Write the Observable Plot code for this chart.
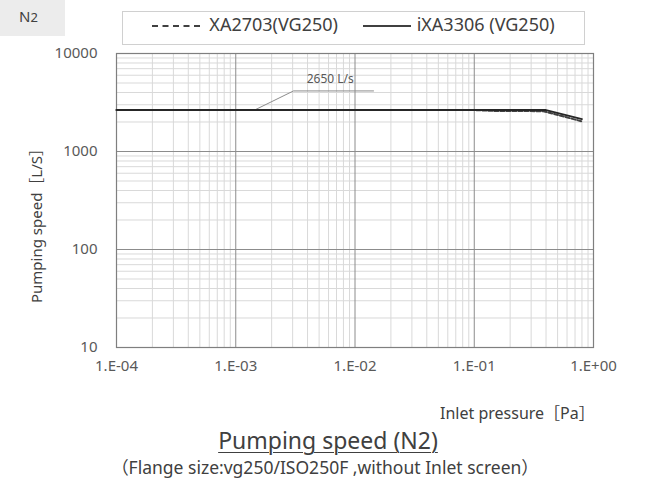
<!DOCTYPE html>
<html>
<head>
<meta charset="utf-8">
<script src="https://cdn.jsdelivr.net/npm/d3@7"></script>
<script src="https://cdn.jsdelivr.net/npm/@observablehq/plot@0.6"></script>
<style>
  html, body { margin: 0; padding: 0; background: #fff; }
  #wrap { position: relative; width: 645px; height: 485px; overflow: hidden; font-family: "Noto Sans", "Noto Sans CJK JP", sans-serif; color: #404040; }
  #wrap svg { position: absolute; left: 0; top: 0; }
  .abs { position: absolute; white-space: nowrap; }
</style>
</head>
<body>
<div id="wrap">
  <div class="abs" style="left:0;top:0;width:65px;height:36px;background:#ececec;"></div>
  <div class="abs" style="left:19px;top:6px;font-size:15px;color:#404040;">N<span style="font-size:13px;">2</span></div>
  <div class="abs" style="left:122px;top:11px;width:461px;height:32px;border:1px solid #d0d0d0;"></div>
  <div class="abs" id="leg" style="left:122px;top:12px;width:463px;text-align:center;font-size:18px;color:#404040;">
    <span style="display:inline-block;width:48px;border-top:2px dashed #404040;vertical-align:middle;margin-right:9px;"></span>XA2703(VG250)
    <span style="display:inline-block;width:48px;border-top:2px solid #404040;vertical-align:middle;margin-left:20px;margin-right:6px;"></span>iXA3306 (VG250)
  </div>
  <div class="abs" style="left:35px;top:222px;transform:translate(-50%,-50%) rotate(-90deg);font-size:15px;color:#404040;">Pumping speed［L/S］</div>
  <div class="abs" style="left:440px;top:400px;font-size:16px;color:#404040;">Inlet pressure［Pa］</div>
  <div class="abs" style="left:0;width:656px;top:424px;text-align:center;font-size:23px;color:#404040;text-decoration:underline;text-decoration-thickness:1px;text-underline-offset:3px;">Pumping speed (N2)</div>
  <div class="abs" style="left:0;width:650px;top:454px;text-align:center;font-size:17.5px;color:#404040;">（Flange size:vg250/ISO250F ,without Inlet screen）</div>
</div>
<script>
// Inlet pressure [Pa] and pumping speed [L/s]
const xa2703Pressure = [1e-4, 1e-3, 1e-2, 0.1, 0.15, 0.38, 0.8];
const xa2703Speed    = [2650, 2650, 2650, 2650, 2590, 2580, 2030];
const ixa3306Pressure = [1e-4, 1e-3, 1e-2, 0.1, 0.4, 0.8];
const ixa3306Speed    = [2650, 2650, 2650, 2650, 2650, 2140];

const xMajor = [1e-4, 1e-3, 1e-2, 1e-1, 1];
const xTickLabels = ["1.E-04", "1.E-03", "1.E-02", "1.E-01", "1.E+00"];
const yMajor = [10, 100, 1000, 10000];
const yTickLabels = ["10", "100", "1000", "10000"];
const minorMultipliers = [2, 3, 4, 5, 6, 7, 8, 9];

// annotation: label and leader line, in data coordinates
const annoText = "2650 L/s";
const annoTextAt = [6.2e-3, 5450];
const annoLeaderX = [1.44e-3, 3.05e-3, 0.0143];
const annoLeaderY = [2650, 4150, 4150];

const xa = xa2703Pressure.map((p, i) => ({p, s: xa2703Speed[i]}));
const ix = ixa3306Pressure.map((p, i) => ({p, s: ixa3306Speed[i]}));
const xMinor = xMajor.slice(0, -1).flatMap(d => minorMultipliers.map(m => d * m));
const yMinor = yMajor.slice(0, -1).flatMap(d => minorMultipliers.map(m => d * m));
const leader = annoLeaderX.map((x, i) => ({x, y: annoLeaderY[i]}));

const chart = Plot.plot({
  width: 645,
  height: 485,
  marginLeft: 116,
  marginRight: 52,
  marginTop: 53,
  marginBottom: 138,
  style: {fontFamily: '"Noto Sans", sans-serif', fontSize: "15px", color: "#595959", background: "transparent"},
  x: {type: "log", domain: [1e-4, 1], label: null},
  y: {type: "log", domain: [10, 10000], label: null},
  marks: [
    Plot.ruleX(xMinor, {stroke: "#d9d9d9", strokeWidth: 1}),
    Plot.ruleY(yMinor, {stroke: "#d9d9d9", strokeWidth: 1}),
    Plot.ruleX(xMajor.slice(1, -1), {stroke: "#8c8c8c", strokeWidth: 1}),
    Plot.ruleY(yMajor.slice(1, -1), {stroke: "#8c8c8c", strokeWidth: 1}),
    Plot.frame({stroke: "#7f7f7f", strokeWidth: 1.2}),
    Plot.axisX({ticks: xMajor, tickFormat: d => xTickLabels[xMajor.indexOf(d)], tickSize: 0, tickPadding: 13, fontSize: 15, fill: "#595959"}),
    Plot.axisY({ticks: yMajor, tickFormat: d => yTickLabels[yMajor.indexOf(d)], tickSize: 0, tickPadding: 19, fontSize: 15, fill: "#595959"}),
    Plot.line(leader, {x: "x", y: "y", stroke: "#8c8c8c", strokeWidth: 1}),
    Plot.text([annoText], {x: () => annoTextAt[0], y: () => annoTextAt[1], text: d => d, fontSize: 12, fill: "#595959"}),
    Plot.line(xa, {x: "p", y: "s", stroke: "#404040", strokeWidth: 2, strokeDasharray: "4,2"}),
    Plot.line(ix, {x: "p", y: "s", stroke: "#262626", strokeWidth: 1.8})
  ]
});
document.getElementById("wrap").prepend(chart);
</script>
</body>
</html>
